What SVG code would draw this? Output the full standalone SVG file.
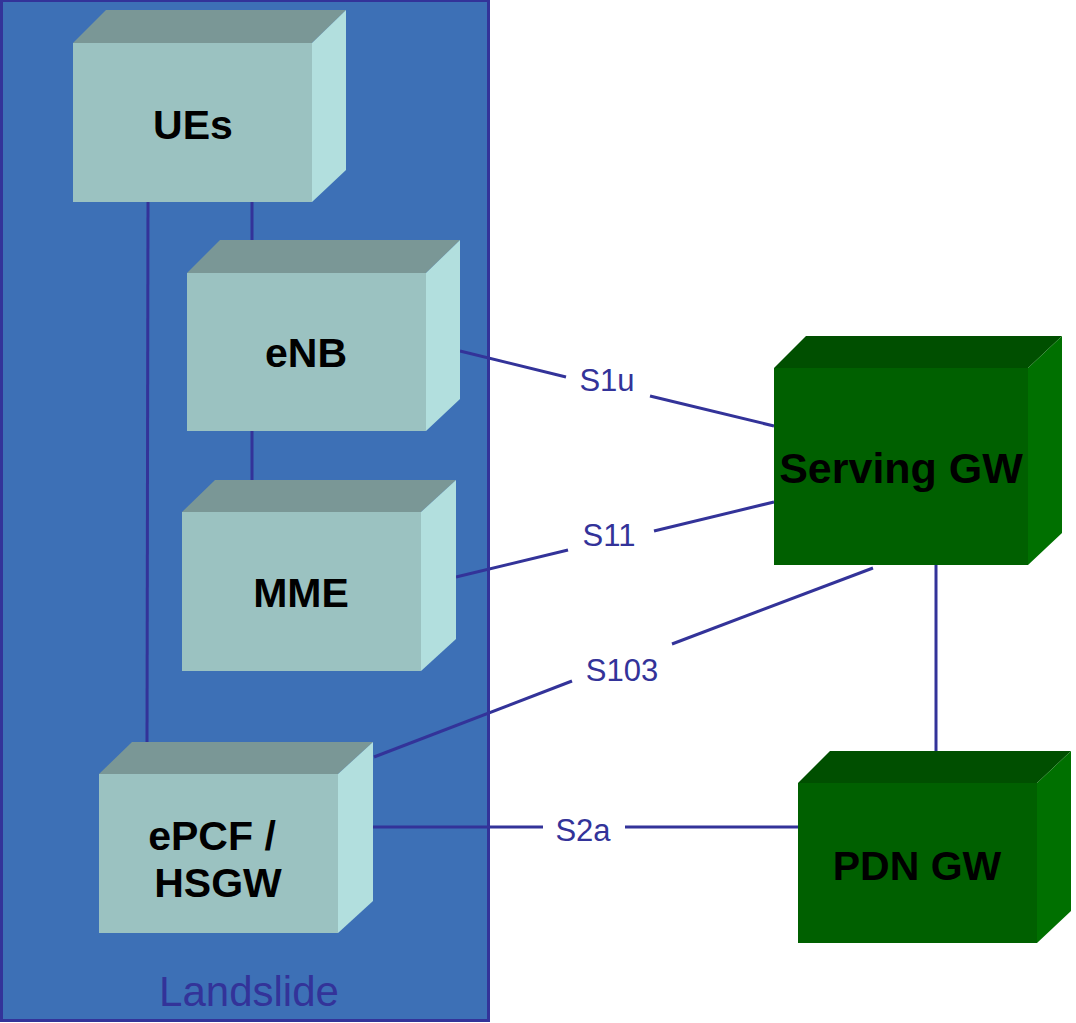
<svg xmlns="http://www.w3.org/2000/svg" width="1076" height="1023" viewBox="0 0 1076 1023">
<style>
.front{fill:#9BC2C1}.top{fill:#7A9796}.side{fill:#B2DFDE}
.gfront{fill:#006000}.gtop{fill:#004F00}.gside{fill:#007000}
.lbl{font-family:"Liberation Sans",Arial,sans-serif;font-weight:bold;font-size:41px;fill:#000;text-anchor:middle}
.if{font-family:"Liberation Sans",Arial,sans-serif;font-size:31px;fill:#333399;text-anchor:middle}
.conn{stroke:#333399;stroke-width:3;fill:none}
</style>
<rect width="1076" height="1023" fill="#fff"/>
<g id="landslide">
<rect x="1.5" y="0.5" width="487" height="1020" fill="#3D70B6" stroke="#333399" stroke-width="3"/>
<text x="249" y="1006" font-family="Liberation Sans,Arial,sans-serif" font-size="42" fill="#333399" text-anchor="middle">Landslide</text>
</g>
<g id="connectors">
<line class="conn" x1="148" y1="202" x2="147" y2="742"/>
<line class="conn" x1="252" y1="202" x2="252" y2="240"/>
<line class="conn" x1="252" y1="431" x2="252" y2="480"/>
<line class="conn" x1="936" y1="565" x2="936" y2="751"/>
<line class="conn" x1="460" y1="351" x2="566" y2="377"/>
<line class="conn" x1="650" y1="396" x2="774" y2="426"/>
<line class="conn" x1="456" y1="577" x2="568" y2="550"/>
<line class="conn" x1="654" y1="531" x2="774" y2="502"/>
<line class="conn" x1="374" y1="757" x2="572" y2="681"/>
<line class="conn" x1="672" y1="644" x2="873" y2="568"/>
<line class="conn" x1="373" y1="827" x2="543" y2="827"/>
<line class="conn" x1="625" y1="827" x2="798" y2="827"/>
<text class="if" x="607" y="391">S1u</text>
<text class="if" x="609" y="546">S11</text>
<text class="if" x="622" y="681">S103</text>
<text class="if" x="583" y="841">S2a</text>
</g>
<g id="ues">
<polygon class="top" points="73,43 106,10 346,10 312,43"/>
<polygon class="side" points="312,43 346,10 346,170 312,202"/>
<rect class="front" x="73" y="43" width="239" height="159"/>
<text class="lbl" x="193" y="139">UEs</text>
</g>
<g id="enb">
<polygon class="top" points="187,273 220,240 460,240 426,273"/>
<polygon class="side" points="426,273 460,240 460,399 426,431"/>
<rect class="front" x="187" y="273" width="239" height="158"/>
<text class="lbl" x="306" y="367">eNB</text>
</g>
<g id="mme">
<polygon class="top" points="182,512 215,480 456,480 421,512"/>
<polygon class="side" points="421,512 456,480 456,639 421,671"/>
<rect class="front" x="182" y="512" width="239" height="159"/>
<text class="lbl" x="301" y="607">MME</text>
</g>
<g id="epcf">
<polygon class="top" points="99,774 132,742 373,742 338,774"/>
<polygon class="side" points="338,774 373,742 373,901 338,933"/>
<rect class="front" x="99" y="774" width="239" height="159"/>
<text class="lbl" x="212" y="850">ePCF /</text>
<text class="lbl" x="218" y="897">HSGW</text>
</g>
<g id="sgw">
<polygon class="gtop" points="774,368 806,336 1062,336 1028,368"/>
<polygon class="gside" points="1028,368 1062,336 1062,533 1028,565"/>
<rect class="gfront" x="774" y="368" width="254" height="197"/>
<text class="lbl" x="901" y="483" style="font-size:43px">Serving GW</text>
</g>
<g id="pdngw">
<polygon class="gtop" points="798,783 830,751 1071,751 1037,783"/>
<polygon class="gside" points="1037,783 1071,751 1071,911 1037,943"/>
<rect class="gfront" x="798" y="783" width="239" height="160"/>
<text class="lbl" x="917" y="880">PDN GW</text>
</g>
</svg>
